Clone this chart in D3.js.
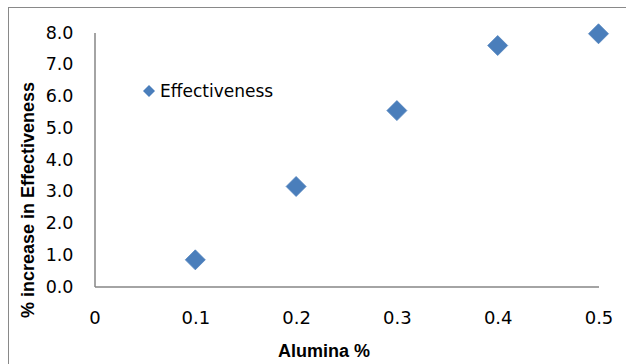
<!DOCTYPE html>
<html><head><meta charset="utf-8">
<script src="https://cdn.jsdelivr.net/npm/d3@7"></script>
<style>body{margin:0;background:#fff}svg{display:block}text{font-family:"DejaVu Sans",sans-serif;fill:#000}</style>
</head><body>
<svg id="c" width="626" height="364"></svg>
<script>
const xValues = [0.1, 0.2, 0.3, 0.4, 0.5];
const yValues = [0.84, 3.15, 5.54, 7.59, 7.96];
const seriesName = "Effectiveness";
const xTicks = [0, 0.1, 0.2, 0.3, 0.4, 0.5];
const yTicks = [0, 1, 2, 3, 4, 5, 6, 7, 8];
const xTitle = "Alumina %";
const yTitle = "% increase in Effectiveness";

const svg = d3.select("#c");
svg.append("rect").attr("x",8.5).attr("y",7.5).attr("width",640).attr("height",400)
  .attr("fill","#fff").attr("stroke","#898989").attr("stroke-width",1);

const x = d3.scaleLinear().domain([0,0.5]).range([94.5,598.5]);
const y = d3.scaleLinear().domain([0,8]).range([286.5,32.5]);

const xAxis = svg.append("g").attr("transform","translate(0,286.5)")
  .call(d3.axisBottom(x).tickValues(xTicks).tickSize(0).tickPadding(25)
    .tickFormat(d => d === 0 ? "0" : d3.format(".1f")(d)));
xAxis.select(".domain").attr("stroke","#868686").attr("stroke-width",1.5);
xAxis.selectAll("text").style("font-size","18px").style("font-family","DejaVu Sans");

const yAxis = svg.append("g").attr("transform","translate(94.5,0)")
  .call(d3.axisLeft(y).tickValues(yTicks).tickSize(0).tickPadding(21).tickFormat(d3.format(".1f")));
yAxis.select(".domain").attr("stroke","#868686").attr("stroke-width",1.5);
yAxis.selectAll("text").style("font-size","17.5px").style("font-family","DejaVu Sans");

function diamondPath(r){ return `M0,${-r}L${r},0L0,${r}L${-r},0Z`; }

svg.append("g").selectAll("path").data(xValues).join("path")
  .attr("transform",(d,i)=>`translate(${x(d)},${y(yValues[i])})`)
  .attr("d", diamondPath(10))
  .attr("fill","#4A7EBB").attr("stroke","#4F81BD").attr("stroke-width",0.8);

// legend
svg.append("path").attr("transform","translate(149,91)").attr("d",diamondPath(6))
  .attr("fill","#4A7EBB");
svg.append("text").attr("x",160).attr("y",97).style("font-size","17px").text(seriesName);

svg.append("text").attr("x",324).attr("y",357).attr("text-anchor","middle")
  .style("font-family","'Liberation Sans',Arial,sans-serif")
  .style("font-size","18px").style("font-weight","bold").text(xTitle);
svg.append("text").attr("transform","translate(34,200) rotate(-90)").attr("text-anchor","middle")
  .style("font-family","'Liberation Sans',Arial,sans-serif")
  .style("font-size","18px").style("font-weight","bold").text(yTitle);
</script>
</body></html>
